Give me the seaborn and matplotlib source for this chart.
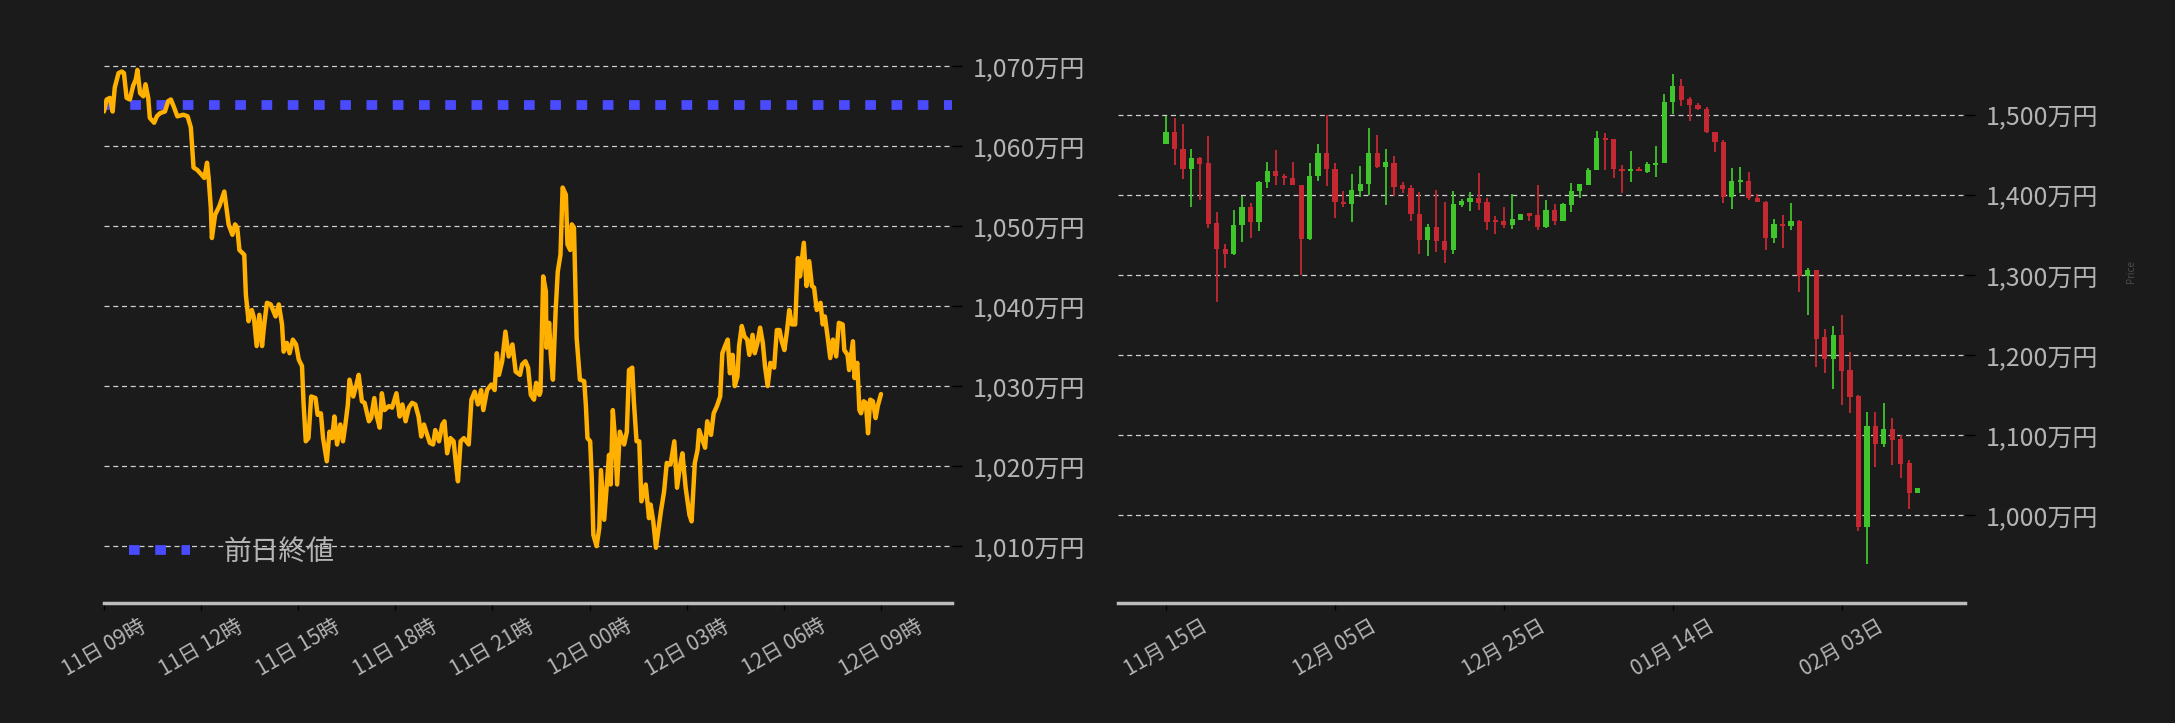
import matplotlib
matplotlib.use("Agg")
import matplotlib.pyplot as plt
import matplotlib.dates as mdates
import matplotlib.ticker as mticker
import numpy as np
import pandas as pd
import seaborn as sns

# ---------------- data: intraday (minutes after 11日 09:00, price 万円) ----------------
intraday_minutes = [0,5,11,16,20,27,33,37,42,48,54,59,62,67,73,77,82,85,93,98,104,113,119,124,130,136,147,155,161,166,
    173,181,186,191,194,198,200,206,214,223,231,238,243,247,251,260,263,268,274,278,283,288,293,297,302,309,318,324,330,333,
    339,344,350,356,361,367,370,374,379,384,392,396,402,406,413,418,423,427,432,438,443,447,452,455,462,468,472,478,483,491,
    495,501,505,511,515,520,528,534,542,548,553,559,565,571,577,583,588,593,599,604,610,614,621,627,631,636,642,648,653,656,
    661,667,676,681,687,693,699,703,710,718,724,728,732,738,744,750,757,763,771,775,781,786,791,797,801,807,809,814,819,820,
    825,828,832,837,841,846,850,856,859,864,867,871,876,882,890,893,896,901,904,907,913,918,921,927,932,936,939,943,947,951,
    956,964,969,973,979,982,987,992,996,1004,1010,1013,1018,1023,1028,1032,1038,1043,1050,1057,1062,1068,1072,1078,1085,1089,
    1095,1100,1103,1109,1114,1118,1125,1130,1136,1142,1146,1151,1156,1160,1165,1169,1174,1177,1182,1187,1192,1196,1202,1206,
    1211,1216,1221,1225,1230,1235,1242,1247,1252,1256,1261,1266,1270,1275,1281,1286,1290,1297,1302,1307,1312,1316,1321,1328,
    1332,1336,1341,1346,1351,1357,1362,1369,1372,1378,1381,1388,1391,1396,1400,1403,1408,1412,1416,1420,1425,1430,1434,1440]
intraday_price = [1064.3,1065.8,1066.0,1064.3,1067.3,1069.1,1069.3,1069.1,1066.0,1065.8,1067.5,1068.3,1069.5,1066.6,1066.2,
    1067.7,1066.0,1063.5,1062.9,1063.7,1064.1,1064.3,1065.6,1065.8,1064.8,1063.7,1063.9,1063.7,1062.3,1057.3,
    1057.0,1056.4,1056.0,1057.9,1056.0,1052.3,1048.5,1051.4,1052.5,1054.3,1050.2,1048.9,1050.2,1049.8,1047.0,1046.4,1041.4,
    1038.1,1039.5,1038.5,1035.0,1038.9,1035.0,1037.7,1040.4,1040.2,1038.7,1040.2,1037.7,1034.3,
    1035.4,1034.1,1035.8,1035.2,1033.3,1032.5,1027.7,1023.1,1023.5,1028.7,1028.5,1026.4,1026.6,1023.5,1020.6,1024.3,1023.5,
    1026.2,1022.7,1025.2,1023.1,1025.0,1027.7,1030.8,1028.7,1030.2,1031.4,1028.1,1027.9,1025.6,
    1026.0,1028.5,1026.4,1024.8,1029.1,1027.0,1027.5,1027.3,1029.1,1026.2,1027.7,1025.6,1027.3,1027.9,1027.7,1026.2,1023.7,
    1025.2,1023.9,1022.9,1022.7,1024.5,1023.1,1025.2,1025.6,1021.6,1023.5,1023.1,1019.8,1018.1,
    1023.1,1023.5,1022.7,1028.3,1029.3,1027.7,1029.5,1027.0,1029.5,1030.2,1029.5,1034.1,1031.4,1033.1,1036.8,1033.7,1035.2,
    1031.8,1031.4,1032.7,1033.1,1032.3,1028.9,1028.3,1030.4,1028.9,1029.3,1043.7,1041.8,1034.8,
    1037.9,1033.9,1030.8,1039.3,1044.3,1046.4,1054.8,1053.9,1047.7,1047.0,1050.2,1049.8,1036.0,1030.8,1030.6,1027.7,1023.5,
    1023.1,1018.5,1011.4,1010.0,1012.3,1019.5,1013.3,1017.7,1021.4,1017.7,1027.0,1023.5,1017.7,
    1024.3,1022.7,1024.3,1032.0,1032.3,1028.1,1023.1,1023.1,1015.6,1017.7,1013.5,1015.2,1013.1,1009.8,1012.3,1014.3,1016.8,
    1020.4,1020.2,1023.1,1017.3,1020.2,1021.6,1017.3,1013.9,1013.1,
    1020.4,1022.0,1024.5,1023.3,1022.3,1025.6,1023.9,1026.6,1027.5,1028.7,1034.1,1035.0,1035.8,1031.6,1033.9,1030.0,1031.2,
    1035.0,1037.5,1036.2,1035.8,1033.9,1036.4,1034.1,
    1035.4,1037.3,1035.4,1032.5,1030.0,1032.9,1032.3,1037.0,1037.0,1035.6,1034.5,1037.0,1039.5,1037.7,1037.7,1046.0,1043.7,
    1047.9,1042.5,1045.6,1042.5,1042.3,1039.5,1040.4,
    1037.7,1038.7,1036.2,1033.5,1035.8,1033.7,1037.9,1037.7,1034.5,1033.9,1032.0,1035.6,1031.0,1032.9,1027.0,1026.6,1028.1,
    1027.9,1024.1,1028.3,1028.1,1026.0,1027.5,1029.0]
prev_close = 1065.1
prev_close_label = "前日終値"

# ---------------- data: daily candles (万円) ----------------
candle_start = "2024-11-15"
candle_open = [1463,1479,1457.5,1431.7,1446,1440,1365,1332.5,1325.4,1361.7,1385,1365.4,1415.4,1430,1423.8,1421.3,1412.5,1344.2,
    1423,1452.5,1432.5,1391.3,1388,1404.2,1413,1452.5,1434.2,1440,1411.7,1408.8,1376.3,1343,
    1360,1342.5,1330.4,1387.5,1391.3,1396.3,1391.3,1367.5,1367.5,1362.5,1368.8,1376.7,1375,1360,1381.3,1367.5,1387.5,1404.2,
    1412.5,1430.4,1471.3,1470,1432.5,1429.2,1432.5,1428.8,1437.5,1439.2,1515.4,1536.3,1520,
    1512.5,1507.5,1478.8,1466.3,1396.7,1416.3,1417.5,1396.3,1391.3,1345.4,1363.8,1360.4,1367.5,1297.9,1306.3,1222.5,1194.2,
    1225,1181.3,1148.8,985.4,1111.3,1089.2,1107.5,1095,1065,1027.9]
candle_high = [1498,1496,1488,1457,1447,1473.3,1378.3,1338.7,1380.8,1398,1389.6,1417,1440.8,1456.3,1425.8,1440.8,1412.5,1439.2,
    1464,1499.6,1440,1404.6,1425.8,1435.8,1483.3,1475,1457,1448.3,1416.3,1412.5,1403.3,1364,
    1406.3,1390.8,1404.2,1394.2,1403,1427.5,1395.4,1373.8,1385,1400.8,1376.3,1377.5,1412.5,1393.3,1388.8,1389.6,1414.6,1413.8,
    1433.3,1479.6,1477.5,1470,1437,1454.6,1435,1441.3,1460.8,1525.8,1550.8,1545,1522.5,
    1514.6,1509.6,1478.8,1468.8,1433.3,1435,1428.8,1400.4,1392.1,1369.6,1375,1389.2,1368.8,1308,1306.3,1232.1,1235.8,
    1249.6,1203.3,1149.6,1129.2,1128.3,1139.6,1121.3,1100,1068.8,1033.8]
candle_low = [1463,1437,1419.6,1385,1393,1359,1265.9,1308,1324.6,1341,1345.4,1354.6,1408.3,1411.7,1411.7,1411.7,1299.6,1343.3,
    1417,1410.8,1370.4,1384.2,1366.3,1397,1399.6,1433.3,1387.5,1398.3,1402,1366.7,1325.4,1323.3,
    1329,1314.2,1325.8,1385,1379.6,1380.4,1355.4,1350.4,1358,1357,1368,1367.5,1356.3,1358,1362.5,1367.5,1379,1395.8,
    1412.5,1430.4,1430.4,1420.4,1401.7,1415.8,1429.2,1426.7,1421.7,1439.2,1501.3,1510.4,1491.7,
    1505.4,1476.7,1452.9,1389.2,1382.1,1402.1,1393.3,1390.4,1330.4,1340,1333.3,1355.8,1277.9,1249.6,1184.6,1176.7,1157.1,
    1137.9,1127.1,980.4,938.8,1059.6,1084.6,1063,1046.7,1008,1027]
candle_close = [1479,1457,1431.7,1446.3,1439,1364,1331.7,1325.4,1362.5,1385,1365.4,1416.3,1430,1423,1420.4,1411.7,1344.2,1423.8,
    1452.5,1431.7,1390.4,1388,1406.3,1413.8,1452.5,1434.2,1441.3,1410,1407.5,1375.4,1343,1360,
    1341.7,1330.4,1388.8,1392.5,1396.3,1390,1366.3,1366.3,1362.5,1370,1376.3,1373.8,1360,1381.3,1367.5,1388.8,1405,1413.8,
    1431.3,1471.3,1468.8,1431.7,1429.2,1432.5,1429.2,1438.8,1440,1516.3,1536.3,1518.8,1511.7,
    1506.7,1478,1465.4,1396.7,1417.5,1417.5,1395.4,1390.4,1345.4,1363.8,1360.4,1367.5,1297.9,1306.3,1220.4,1194.2,1225,
    1180.4,1147.9,985.4,1111.3,1089.2,1107.5,1094.2,1064.2,1027.9,1033.8]

left_ticks = [1010, 1020, 1030, 1040, 1050, 1060, 1070]
right_ticks = [1000, 1100, 1200, 1300, 1400, 1500]

# ---------------- style ----------------
BG = "#1b1b1b"
TXT = "#b4b4b4"
sns.set_theme(style="dark")
plt.rcParams["font.family"] = ["Noto Sans CJK JP", "DejaVu Sans"]
plt.rcParams["axes.facecolor"] = BG
plt.rcParams["figure.facecolor"] = BG

fig = plt.figure(figsize=(21.75, 7.23), dpi=100)
ax1 = fig.add_axes([0.0478, 0.166, 0.390, 0.765])
ax2 = fig.add_axes([0.514, 0.166, 0.3894, 0.765])

def style_axis(ax):
    ax.set_facecolor(BG)
    for s in ["top", "left", "right"]:
        ax.spines[s].set_visible(False)
    ax.spines["bottom"].set_color("#bdbdbd")
    ax.spines["bottom"].set_linewidth(2.5)
    ax.yaxis.tick_right()
    ax.grid(False)
    ax.yaxis.grid(True, color="#d0d0d0", linestyle=(0, (4, 3)), linewidth=0.9)
    ax.tick_params(axis="y", colors="black", labelcolor=TXT, labelsize=18, length=7, width=1, pad=8, right=True, left=False)
    ax.tick_params(axis="x", colors="black", labelcolor=TXT, labelsize=15, length=5, width=1, bottom=True)

# ---- left: intraday line ----
t0 = pd.Timestamp("2025-02-11 09:00")
df = pd.DataFrame({"time": t0 + pd.to_timedelta(intraday_minutes, unit="m"), "price": intraday_price})
prev_df = pd.DataFrame({"time": [t0, t0 + pd.Timedelta(hours=26.2)], "price": [prev_close, prev_close]})
sns.lineplot(data=prev_df, x="time", y="price", ax=ax1, color="#4a4aff", linewidth=7,
             linestyle=(0, (1.1, 1.6)), label=prev_close_label)
sns.lineplot(data=df, x="time", y="price", ax=ax1, color="#ffb000", linewidth=3.2)
style_axis(ax1)
ax1.set_xlim(t0, t0 + pd.Timedelta(hours=26.2))
ax1.set_ylim(1002.9, 1072.0)
ax1.set_yticks(left_ticks)
ax1.yaxis.set_major_formatter(mticker.FuncFormatter(lambda v, p: f"{v:,.0f}万円"))
ax1.xaxis.set_major_locator(mdates.HourLocator(byhour=[0, 3, 6, 9, 12, 15, 18, 21]))
ax1.xaxis.set_major_formatter(mdates.DateFormatter("%d日 %H時"))
for lab in ax1.get_xticklabels():
    lab.set_rotation(30); lab.set_ha("center")
ax1.set_xlabel(""); ax1.set_ylabel("")
leg = ax1.legend(loc="lower left", bbox_to_anchor=(0.0, 0.02), frameon=False, fontsize=20,
                 handlelength=2.2, handletextpad=1.2, labelcolor=TXT)

# ---- right: candlestick ----
dates = pd.date_range(candle_start, periods=len(candle_open), freq="D")
cdf = pd.DataFrame({"date": dates, "open": candle_open, "high": candle_high, "low": candle_low, "close": candle_close})
cdf["up"] = cdf["close"] >= cdf["open"]
cdf["color"] = np.where(cdf["up"], "#3ec62a", "#c62832")
cdf["bottom"] = cdf[["open", "close"]].min(axis=1)
cdf["height"] = (cdf["close"] - cdf["open"]).abs().clip(lower=2.5)
xd = mdates.date2num(cdf["date"])
ax2.vlines(xd, cdf["low"], cdf["high"], colors=cdf["color"], linewidth=1.3, zorder=2)
ax2.bar(xd, cdf["height"], bottom=cdf["bottom"], width=0.62, color=cdf["color"], linewidth=0, zorder=3)
sns.despine(ax=ax2, left=True, right=True, top=True)
style_axis(ax2)
ax2.set_xlim(xd[0] - 5.7, xd[-1] + 5.6)
ax2.set_ylim(890, 1581)
ax2.set_yticks(right_ticks)
ax2.yaxis.set_major_formatter(mticker.FuncFormatter(lambda v, p: f"{v:,.0f}万円"))
ax2.set_xticks(xd[::20])
ax2.xaxis.set_major_formatter(mdates.DateFormatter("%m月 %d日"))
for lab in ax2.get_xticklabels():
    lab.set_rotation(30); lab.set_ha("center")
ax2.yaxis.set_label_position("right")
ax2.set_ylabel("Price", fontsize=7, color="#4a4a4a", labelpad=4)
ax2.yaxis.label.set_position((1, 0.6))
ax2.yaxis.set_label_coords(1.19, 0.6)

fig.savefig("out.png", dpi=100, facecolor=BG)
